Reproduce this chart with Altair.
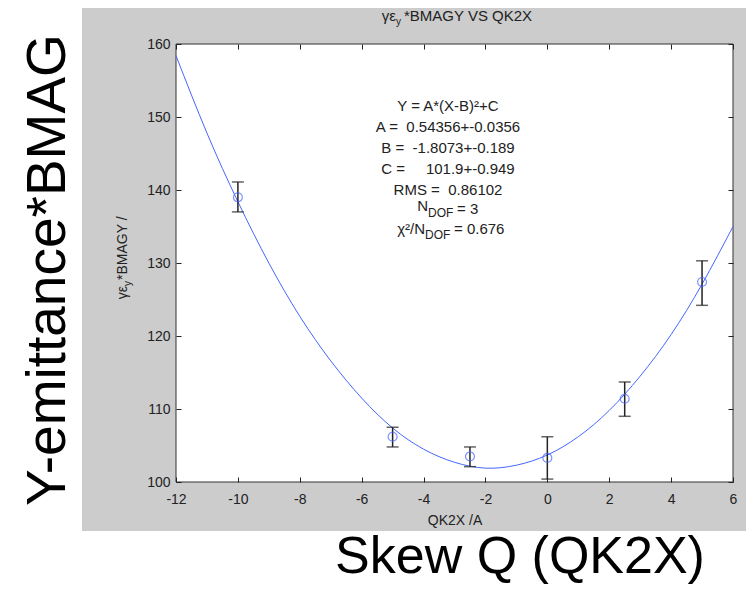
import altair as alt
import pandas as pd

# ---- data ----
meas_x = [-10, -5, -2.5, 0, 2.5, 5]
meas_y = [139.0, 106.2, 103.5, 103.3, 111.4, 127.4]
meas_lo = [137.0, 104.8, 102.1, 100.4, 109.0, 124.2]
meas_hi = [141.1, 107.5, 104.8, 106.2, 113.7, 130.3]

curve_x = [-12, -11, -10, -9, -8, -7, -6, -5, -4, -3, -2, -1, 0, 1, 2, 3, 4, 5, 6]
curve_y = [158.4, 147.8, 138.4, 130.0, 122.7, 116.6, 111.5, 107.4, 104.5, 102.7,
           101.9, 102.3, 103.7, 106.2, 109.8, 114.5, 120.2, 127.1, 135.0]

x_ticks = [-12, -10, -8, -6, -4, -2, 0, 2, 4, 6]
y_ticks = [100, 110, 120, 130, 140, 150, 160]

title_main = "γε"
title_sub = "y"
title_rest = "*BMAGY VS QK2X"
ytitle_rest = "*BMAGY /"
xtitle = "QK2X /A"
big_y = "Y-emittance*BMAG"
big_x = "Skew Q (QK2X)"
NB = "\u00a0"
fit_lines = [
    "Y = A*(X-B)²+C",
    "A =" + NB * 2 + "0.54356+-0.0356",
    "B =" + NB * 2 + "-1.8073+-0.189",
    "C =" + NB * 5 + "101.9+-0.949",
    "RMS =" + NB * 2 + "0.86102",
]

W, H = 557, 438
FONT = "Liberation Sans"
INK = "#222222"
BLUE = "#4566ff"

meas = pd.DataFrame({"x": meas_x, "y": meas_y, "lo": meas_lo, "hi": meas_hi})
caps = pd.DataFrame({"x": meas_x + meas_x, "y": meas_lo + meas_hi})
curve = pd.DataFrame({"x": curve_x, "y": curve_y})
one = pd.DataFrame({"a": [0]})

xs = alt.Scale(domain=[-12, 6], nice=False, zero=False)
ys = alt.Scale(domain=[100, 160], nice=False, zero=False)

axis_common = dict(
    offset=-5, tickSize=5, domain=False, grid=False, zindex=1,
    tickColor=INK, tickWidth=1, labelFlush=False,
    labelFont=FONT, labelFontSize=14, labelColor=INK,
    labelExpr="'' + datum.value",
)

bottom_axis = alt.Axis(orient="bottom", values=x_ticks, labelPadding=10,
                       title=xtitle, titleFont=FONT, titleFontSize=14,
                       titleFontWeight="normal", titleColor=INK, titlePadding=7,
                       **axis_common)
left_axis = alt.Axis(orient="left", values=y_ticks, labelPadding=6, title=None,
                     **axis_common)
top_axis = alt.Axis(orient="top", values=x_ticks, labels=False, title=None,
                    **axis_common)
right_axis = alt.Axis(orient="right", values=y_ticks, labels=False, title=None,
                      **axis_common)

gray = alt.Chart(one).mark_rect(color="#cccccc").encode(
    x=alt.value(-94), x2=alt.value(W + 13), y=alt.value(-36), y2=alt.value(487))

box = alt.Chart(one).mark_rect(fill="white", stroke="#333333", strokeWidth=1).encode(
    x=alt.value(0), x2=alt.value(W), y=alt.value(0), y2=alt.value(H))

line = alt.Chart(curve).mark_line(color=BLUE, strokeWidth=1, interpolate="natural").encode(
    x=alt.X("x:Q", scale=xs, axis=bottom_axis),
    y=alt.Y("y:Q", scale=ys, axis=left_axis))

bars = alt.Chart(meas).mark_rule(color=INK, strokeWidth=1.5).encode(
    x=alt.X("x:Q", scale=xs, axis=top_axis),
    y=alt.Y("lo:Q", scale=ys, axis=right_axis),
    y2="hi:Q")

capm = alt.Chart(caps).mark_tick(orient="horizontal", size=12, thickness=1.5, color=INK).encode(
    x=alt.X("x:Q", scale=xs, axis=None),
    y=alt.Y("y:Q", scale=ys, axis=None))

pts = alt.Chart(meas).mark_point(shape="circle", filled=False, size=80, color=BLUE,
                                 strokeWidth=1.2).encode(
    x=alt.X("x:Q", scale=xs, axis=None),
    y=alt.Y("y:Q", scale=ys, axis=None))


def txt(s, x, y, size=15, align="center", angle=0, color=INK):
    return alt.Chart(one).mark_text(text=s, align=align, baseline="alphabetic",
                                    angle=angle, fontSize=size, font=FONT,
                                    color=color).encode(x=alt.value(x), y=alt.value(y))


texts = [
    # title
    txt(title_main, 220, -23, align="right"),
    txt(title_sub, 220, -19, size=10, align="left"),
    txt(title_rest, 228, -23, align="left"),
    # y axis title (rotated)
    txt(title_main, -49, 242, size=14, align="right", angle=270),
    txt(title_sub, -45, 242, size=10, align="left", angle=270),
    txt(ytitle_rest, -49, 236, size=14, align="left", angle=270),
    # big labels
    txt(big_y, -111, 226, size=55, angle=270, color="black"),
    txt(big_x, 344, 529, size=52, color="black"),
]
for i, s in enumerate(fit_lines):
    texts.append(txt(s, 272, 67 + 21 * i))
texts += [
    txt("N", 252, 167, align="right"),
    txt("DOF", 252, 173, size=12, align="left"),
    txt("= 3", 281, 170, align="left"),
    txt("χ²/N", 249, 190, align="right"),
    txt("DOF", 249, 195, size=12, align="left"),
    txt("= 0.676", 278, 190, align="left"),
]

chart = alt.layer(gray, box, line, bars, capm, pts, *texts).resolve_axis(
    x="independent", y="independent"
).properties(
    width=W, height=H,
    autosize=alt.AutoSizeParams(type="none"),
    padding={"left": 168, "top": 36, "right": 13, "bottom": 102},
).configure_view(strokeWidth=0)

chart.save("out.html", embed_options={"renderer": "svg", "actions": False})
